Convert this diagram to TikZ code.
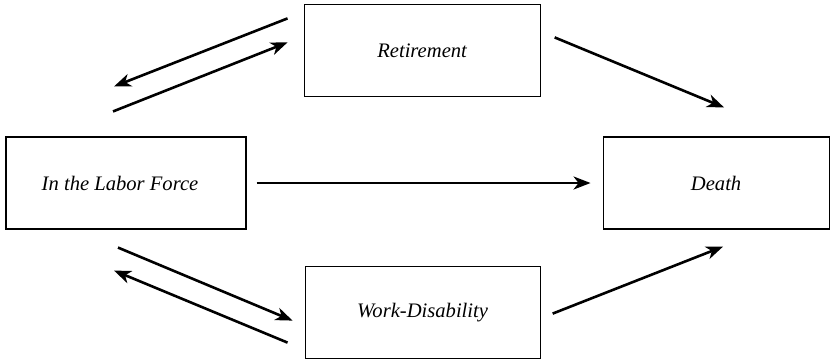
\documentclass[tikz,border=0pt]{standalone}
\usepackage{fontspec}
\setmainfont{Liberation Serif}
\usetikzlibrary{arrows.meta, positioning}
\tikzstyle{block}=[draw,rectangle,line width=1.1pt,minimum height=92pt]
\tikzstyle{every node}=[font=\itshape\fontsize{20.6}{24}\selectfont]

\begin{document}
\begin{tikzpicture}[x=1pt,y=1pt,>={Stealth[length=17pt,width=13pt,inset=5pt]},
    flow/.style={->,line width=2.6pt}]
    \useasboundingbox (0,0) rectangle (833,-360);
    \node[block, minimum width=240pt] (labor) at (126,-183) {In the Labor Force\hspace*{12pt}};
    \node[block, minimum width=236pt, above right=39pt and 57pt of labor] (ret) {Retirement};
    \node[block, minimum width=235pt, below right=36pt and 58pt of labor] (wd) {Work-Disability};
    \node[block, minimum width=226pt, right=356pt of labor] (death) {Death};
    % transitions with retirement
    \draw[flow] ([shift={(-16,32.5)}]ret.west) -- ([shift={(-12,50)}]labor.north);
    \draw[flow] ([shift={(-13,25)}]labor.north) -- ([shift={(-16,8.5)}]ret.west);
    % transitions with work-disability
    \draw[flow] ([shift={(-8,-18)}]labor.south) -- ([shift={(-12,-8.5)}]wd.west);
    \draw[flow] ([shift={(-17,-30.5)}]wd.west) -- ([shift={(-12,-41)}]labor.south);
    % absorbing state
    \draw[flow] ([shift={(14,13.5)}]ret.east) -- ([shift={(8,29)}]death.north);
    \draw[flow] ([shift={(12,-1.5)}]wd.east) -- ([shift={(7,-17)}]death.south);
    \draw[flow] ([xshift=10pt]labor.east) -- ([xshift=-12pt]death.west);
\end{tikzpicture}
\end{document}
